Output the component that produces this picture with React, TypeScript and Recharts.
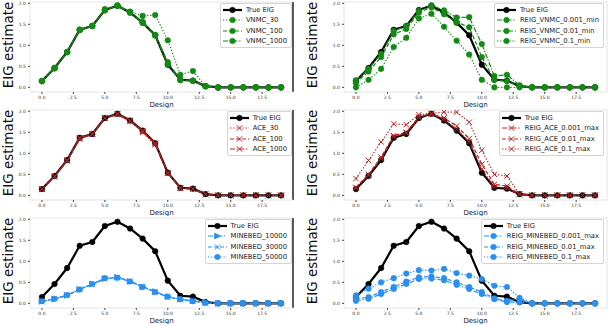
import { LineChart, Line, XAxis, YAxis, Legend, ReferenceLine, Label } from 'recharts';

const designs = [0, 1, 2, 3, 4, 5, 6, 7, 8, 9, 10, 11, 12, 13, 14, 15, 16, 17, 18, 19];
const xTicks = [0, 2.5, 5, 7.5, 10, 12.5, 15, 17.5];
const yTicks = [0, 0.5, 1, 1.5, 2];

const trueEig = [0.15, 0.46, 0.84, 1.37, 1.46, 1.84, 1.94, 1.78, 1.54, 1.24, 0.54, 0.18, 0.16, 0.03, 0, 0, 0, 0, 0, 0];

const vnmc30 = [0.15, 0.45, 0.84, 1.36, 1.46, 1.86, 1.94, 1.8, 1.7, 1.72, 1.12, 0.3, 0.39, 0.03, -0.01, 0, 0, 0, -0.01, 0];
const vnmc100 = [0.15, 0.46, 0.84, 1.37, 1.46, 1.83, 1.95, 1.79, 1.56, 1.25, 0.6, 0.18, 0.16, 0.03, 0, 0, 0, 0, 0, 0];
const vnmc1000 = [0.15, 0.46, 0.84, 1.37, 1.46, 1.84, 1.94, 1.78, 1.53, 1.23, 0.55, 0.17, 0.15, 0.02, 0, 0, 0, 0, 0, 0];

const reigVnmc001 = [0.17, 0.44, 0.8, 1.34, 1.46, 1.82, 1.95, 1.83, 1.66, 1.67, 1.03, 0.27, 0.3, 0.05, 0, 0, 0, 0, 0, 0];
const reigVnmc01 = [0.1, 0.38, 0.72, 1.26, 1.39, 1.78, 1.9, 1.74, 1.55, 1.43, 0.72, 0.18, 0.15, 0.03, 0, 0, 0, 0, 0, 0];
const reigVnmc1 = [0.0, 0.18, 0.44, 0.96, 1.18, 1.64, 1.75, 1.44, 1.11, 0.78, 0.18, 0.0, 0.0, 0.0, 0, 0, 0, 0, 0, 0];

const ace30 = [0.14, 0.44, 0.82, 1.34, 1.45, 1.83, 1.92, 1.76, 1.5, 1.2, 0.52, 0.17, 0.15, 0.02, 0, 0, 0, 0, 0, 0];
const ace100 = [0.15, 0.45, 0.83, 1.36, 1.46, 1.84, 1.93, 1.77, 1.52, 1.23, 0.54, 0.17, 0.15, 0.02, 0, 0, 0, 0, 0, 0];
const ace1000 = [0.15, 0.46, 0.84, 1.37, 1.46, 1.84, 1.94, 1.78, 1.54, 1.24, 0.54, 0.18, 0.16, 0.03, 0, 0, 0, 0, 0, 0];

const reigAce001 = [0.17, 0.48, 0.87, 1.39, 1.48, 1.85, 1.94, 1.8, 1.57, 1.27, 0.62, 0.2, 0.18, 0.02, 0, 0, 0, 0, 0, 0];
const reigAce01 = [0.19, 0.5, 0.91, 1.42, 1.5, 1.86, 1.93, 1.84, 1.65, 1.35, 0.74, 0.26, 0.22, 0.03, 0, 0, 0, 0, 0, 0];
const reigAce1 = [0.4, 0.83, 1.27, 1.7, 1.68, 1.92, 1.95, 1.98, 1.98, 1.74, 1.07, 0.5, 0.46, 0.03, 0, 0, 0, 0, 0, 0];

const minebed10000 = [0.05, 0.1, 0.19, 0.33, 0.46, 0.59, 0.62, 0.52, 0.39, 0.28, 0.16, 0.1, 0.06, 0.02, 0, 0, 0, 0, 0, 0];
const minebed30000 = [0.04, 0.11, 0.19, 0.34, 0.45, 0.58, 0.62, 0.53, 0.4, 0.27, 0.15, 0.09, 0.06, 0.01, 0, 0, 0, 0, 0, 0];
const minebed50000 = [0.05, 0.11, 0.2, 0.33, 0.46, 0.6, 0.61, 0.52, 0.39, 0.27, 0.16, 0.1, 0.05, 0.01, 0, 0, 0, 0, 0, 0];

const reigMinebed001 = [0.06, 0.11, 0.22, 0.34, 0.46, 0.58, 0.59, 0.55, 0.44, 0.34, 0.22, 0.1, 0.03, 0.03, 0, 0, 0, 0, 0, 0];
const reigMinebed01 = [0.1, 0.15, 0.27, 0.39, 0.52, 0.62, 0.64, 0.6, 0.5, 0.39, 0.27, 0.12, 0.06, 0.1, 0, 0, 0, 0, 0, 0];
const reigMinebed1 = [0.19, 0.35, 0.5, 0.6, 0.71, 0.79, 0.78, 0.82, 0.72, 0.66, 0.58, 0.42, 0.39, 0.13, 0, 0, 0, 0, 0, 0];

const GREEN = '#138a13';
const RED = '#b52424';
const BLUE = '#2b8ff0';
const DOTTED = '1.3 1.8';
const DASHED = '4 2';
const DASHDOT = '5 1.6 1.3 1.6';

type Series = { key: string; name: string; values: number[]; color: string; dash?: string; marker: string; width: number };

const trueSeries: Series = { key: 'trueEig', name: 'True EIG', values: trueEig, color: '#000', marker: 'circle', width: 2.2 };

const panels: { series: Series[] }[] = [
  {
    series: [
      trueSeries,
      { key: 'vnmc30', name: 'VNMC_30', values: vnmc30, color: GREEN, dash: DOTTED, marker: 'circle', width: 1.2 },
      { key: 'vnmc100', name: 'VNMC_100', values: vnmc100, color: GREEN, dash: DASHED, marker: 'circle', width: 1.2 },
      { key: 'vnmc1000', name: 'VNMC_1000', values: vnmc1000, color: GREEN, dash: DASHDOT, marker: 'circle', width: 1.2 },
    ],
  },
  {
    series: [
      trueSeries,
      { key: 'rv001', name: 'REIG_VNMC_0.001_min', values: reigVnmc001, color: GREEN, dash: DASHDOT, marker: 'circle', width: 1.2 },
      { key: 'rv01', name: 'REIG_VNMC_0.01_min', values: reigVnmc01, color: GREEN, dash: DASHED, marker: 'circle', width: 1.2 },
      { key: 'rv1', name: 'REIG_VNMC_0.1_min', values: reigVnmc1, color: GREEN, dash: DOTTED, marker: 'circle', width: 1.2 },
    ],
  },
  {
    series: [
      trueSeries,
      { key: 'ace30', name: 'ACE_30', values: ace30, color: RED, dash: DOTTED, marker: 'x', width: 1.2 },
      { key: 'ace100', name: 'ACE_100', values: ace100, color: RED, dash: DASHED, marker: 'x', width: 1.2 },
      { key: 'ace1000', name: 'ACE_1000', values: ace1000, color: RED, dash: DASHDOT, marker: 'x', width: 1.2 },
    ],
  },
  {
    series: [
      trueSeries,
      { key: 'ra001', name: 'REIG_ACE_0.001_max', values: reigAce001, color: RED, dash: DASHDOT, marker: 'x', width: 1.2 },
      { key: 'ra01', name: 'REIG_ACE_0.01_max', values: reigAce01, color: RED, dash: DASHED, marker: 'x', width: 1.2 },
      { key: 'ra1', name: 'REIG_ACE_0.1_max', values: reigAce1, color: RED, dash: DOTTED, marker: 'x', width: 1.2 },
    ],
  },
  {
    series: [
      trueSeries,
      { key: 'mb10000', name: 'MINEBED_10000', values: minebed10000, color: BLUE, dash: DASHDOT, marker: 'tri', width: 1.2 },
      { key: 'mb30000', name: 'MINEBED_30000', values: minebed30000, color: BLUE, dash: DASHED, marker: 'x', width: 1.2 },
      { key: 'mb50000', name: 'MINEBED_50000', values: minebed50000, color: BLUE, dash: DOTTED, marker: 'circle', width: 1.2 },
    ],
  },
  {
    series: [
      trueSeries,
      { key: 'rm001', name: 'REIG_MINEBED_0.001_max', values: reigMinebed001, color: BLUE, dash: DASHDOT, marker: 'circle', width: 1.2 },
      { key: 'rm01', name: 'REIG_MINEBED_0.01_max', values: reigMinebed01, color: BLUE, dash: DASHED, marker: 'circle', width: 1.2 },
      { key: 'rm1', name: 'REIG_MINEBED_0.1_max', values: reigMinebed1, color: BLUE, dash: DOTTED, marker: 'circle', width: 1.2 },
    ],
  },
];

const fmt = (v: number) => v.toFixed(1);

function marker(shape: string, color: string, cx: number, cy: number, key?: string) {
  if (shape === 'x') {
    const s = 2.7;
    return (
      <path key={key} d={`M${cx - s},${cy - s}L${cx + s},${cy + s}M${cx - s},${cy + s}L${cx + s},${cy - s}`} stroke={color} strokeWidth={1} fill="none" />
    );
  }
  if (shape === 'tri') {
    const s = 2.8;
    return <path key={key} d={`M${cx + s},${cy}L${cx - s},${cy - s}L${cx - s},${cy + s}Z`} fill={color} stroke={color} />;
  }
  return <circle key={key} cx={cx} cy={cy} r={2.8} fill={color} stroke={color} strokeWidth={0.5} />;
}

function makeDot(shape: string, color: string) {
  return (props: any) => {
    const { cx, cy, index } = props;
    if (cx == null || cy == null) return <g key={`d-${index}`} />;
    return marker(shape, color, cx, cy, `d-${index}`);
  };
}

function LegendBox({ series }: { series: Series[] }) {
  return (
    <div
      style={{
        border: '1px solid #d4d4d4',
        borderRadius: 2,
        background: 'rgba(255,255,255,0.85)',
        padding: '1px 4px 1px 2px',
        fontFamily: 'DejaVu Sans',
        fontSize: 6.8,
        color: '#222',
        lineHeight: '10px',
      }}
    >
      {series.map((s) => (
        <div key={s.key} style={{ display: 'flex', alignItems: 'center', height: 10.3, whiteSpace: 'nowrap' }}>
          <svg width={19} height={8} style={{ marginRight: 4 }}>
            <line x1={0} y1={4} x2={19} y2={4} stroke={s.color} strokeWidth={s.width} strokeDasharray={s.dash} />
            {marker(s.marker, s.color, 9.5, 4)}
          </svg>
          <span>{s.name}</span>
        </div>
      ))}
    </div>
  );
}

function Panel({ series, right }: { series: Series[]; right: boolean }) {
  const data = designs.map((d, i) => {
    const row: Record<string, number> = { design: d };
    series.forEach((s) => {
      row[s.key] = s.values[i];
    });
    return row;
  });
  const width = right ? 304 : 300;
  const yLabel = (props: any) => {
    const vb = props.viewBox || {};
    const cy = (vb.y ?? 2) + (vb.height ?? 90) / 2 - 2;
    return (
      <text x={8} y={cy} transform={`rotate(-90, 8, ${cy})`} textAnchor="middle" dominantBaseline="central" fontFamily="DejaVu Sans" fontSize={13.5} fill="#111">
        EIG estimate
      </text>
    );
  };
  return (
    <LineChart
      width={width}
      height={108}
      data={data}
      style={{ overflow: 'visible' }}
      margin={{ top: 2, right: right ? 1 : 7, bottom: 0, left: right ? 10 : 0 }}
    >
      <XAxis
        dataKey="design"
        type="number"
        domain={[-0.95, 19.95]}
        allowDataOverflow
        ticks={xTicks}
        interval={0}
        tickFormatter={fmt}
        tick={{ fontSize: 4.5, fill: '#333', fontFamily: 'DejaVu Sans' }}
        tickLine={{ stroke: '#444' }}
        tickSize={2}
        axisLine={{ stroke: '#e4e4e4' }}
        height={16}
      >
        <Label value="Design" position="insideBottom" offset={1.5} style={{ fontSize: 7, fill: '#222', fontFamily: 'DejaVu Sans' }} />
      </XAxis>
      <YAxis
        type="number"
        domain={[-0.11, 2.03]}
        allowDataOverflow
        ticks={yTicks}
        interval={0}
        tickFormatter={fmt}
        tick={{ fontSize: 4.5, fill: '#333', fontFamily: 'DejaVu Sans' }}
        tickLine={{ stroke: '#444' }}
        tickSize={2}
        axisLine={{ stroke: '#e4e4e4' }}
        width={30}
      >
        <Label content={yLabel} />
      </YAxis>
      <ReferenceLine y={2.03} stroke="#e4e4e4" ifOverflow="extendDomain" />
      <ReferenceLine x={19.95} stroke={right ? '#e4e4e4' : '#000'} strokeWidth={right ? 1 : 1.3} ifOverflow="extendDomain" />
      {series.map((s) => (
        <Line
          key={s.key}
          dataKey={s.key}
          name={s.name}
          type="linear"
          stroke={s.color}
          strokeWidth={s.width}
          strokeDasharray={s.dash}
          dot={makeDot(s.marker, s.color)}
          activeDot={false}
          isAnimationActive={false}
        />
      ))}
      <Legend
        layout="horizontal"
        verticalAlign="middle"
        align="center"
        content={() => <LegendBox series={series} />}
        wrapperStyle={{ position: 'absolute', top: 3, right: right ? 4 : 8, left: 'auto', width: 'auto', height: 'auto' }}
      />
    </LineChart>
  );
}

export default function App() {
  return (
    <div style={{ position: 'absolute', left: 0, top: 0, width: 608, height: 326, background: '#fff', overflow: 'hidden' }}>
      {panels.map((p, i) => {
        const right = i % 2 === 1;
        const row = Math.floor(i / 2);
        return (
          <div key={i} style={{ position: 'absolute', left: right ? 304 : 0, top: row * 108 }}>
            <Panel series={p.series} right={right} />
          </div>
        );
      })}
    </div>
  );
}
